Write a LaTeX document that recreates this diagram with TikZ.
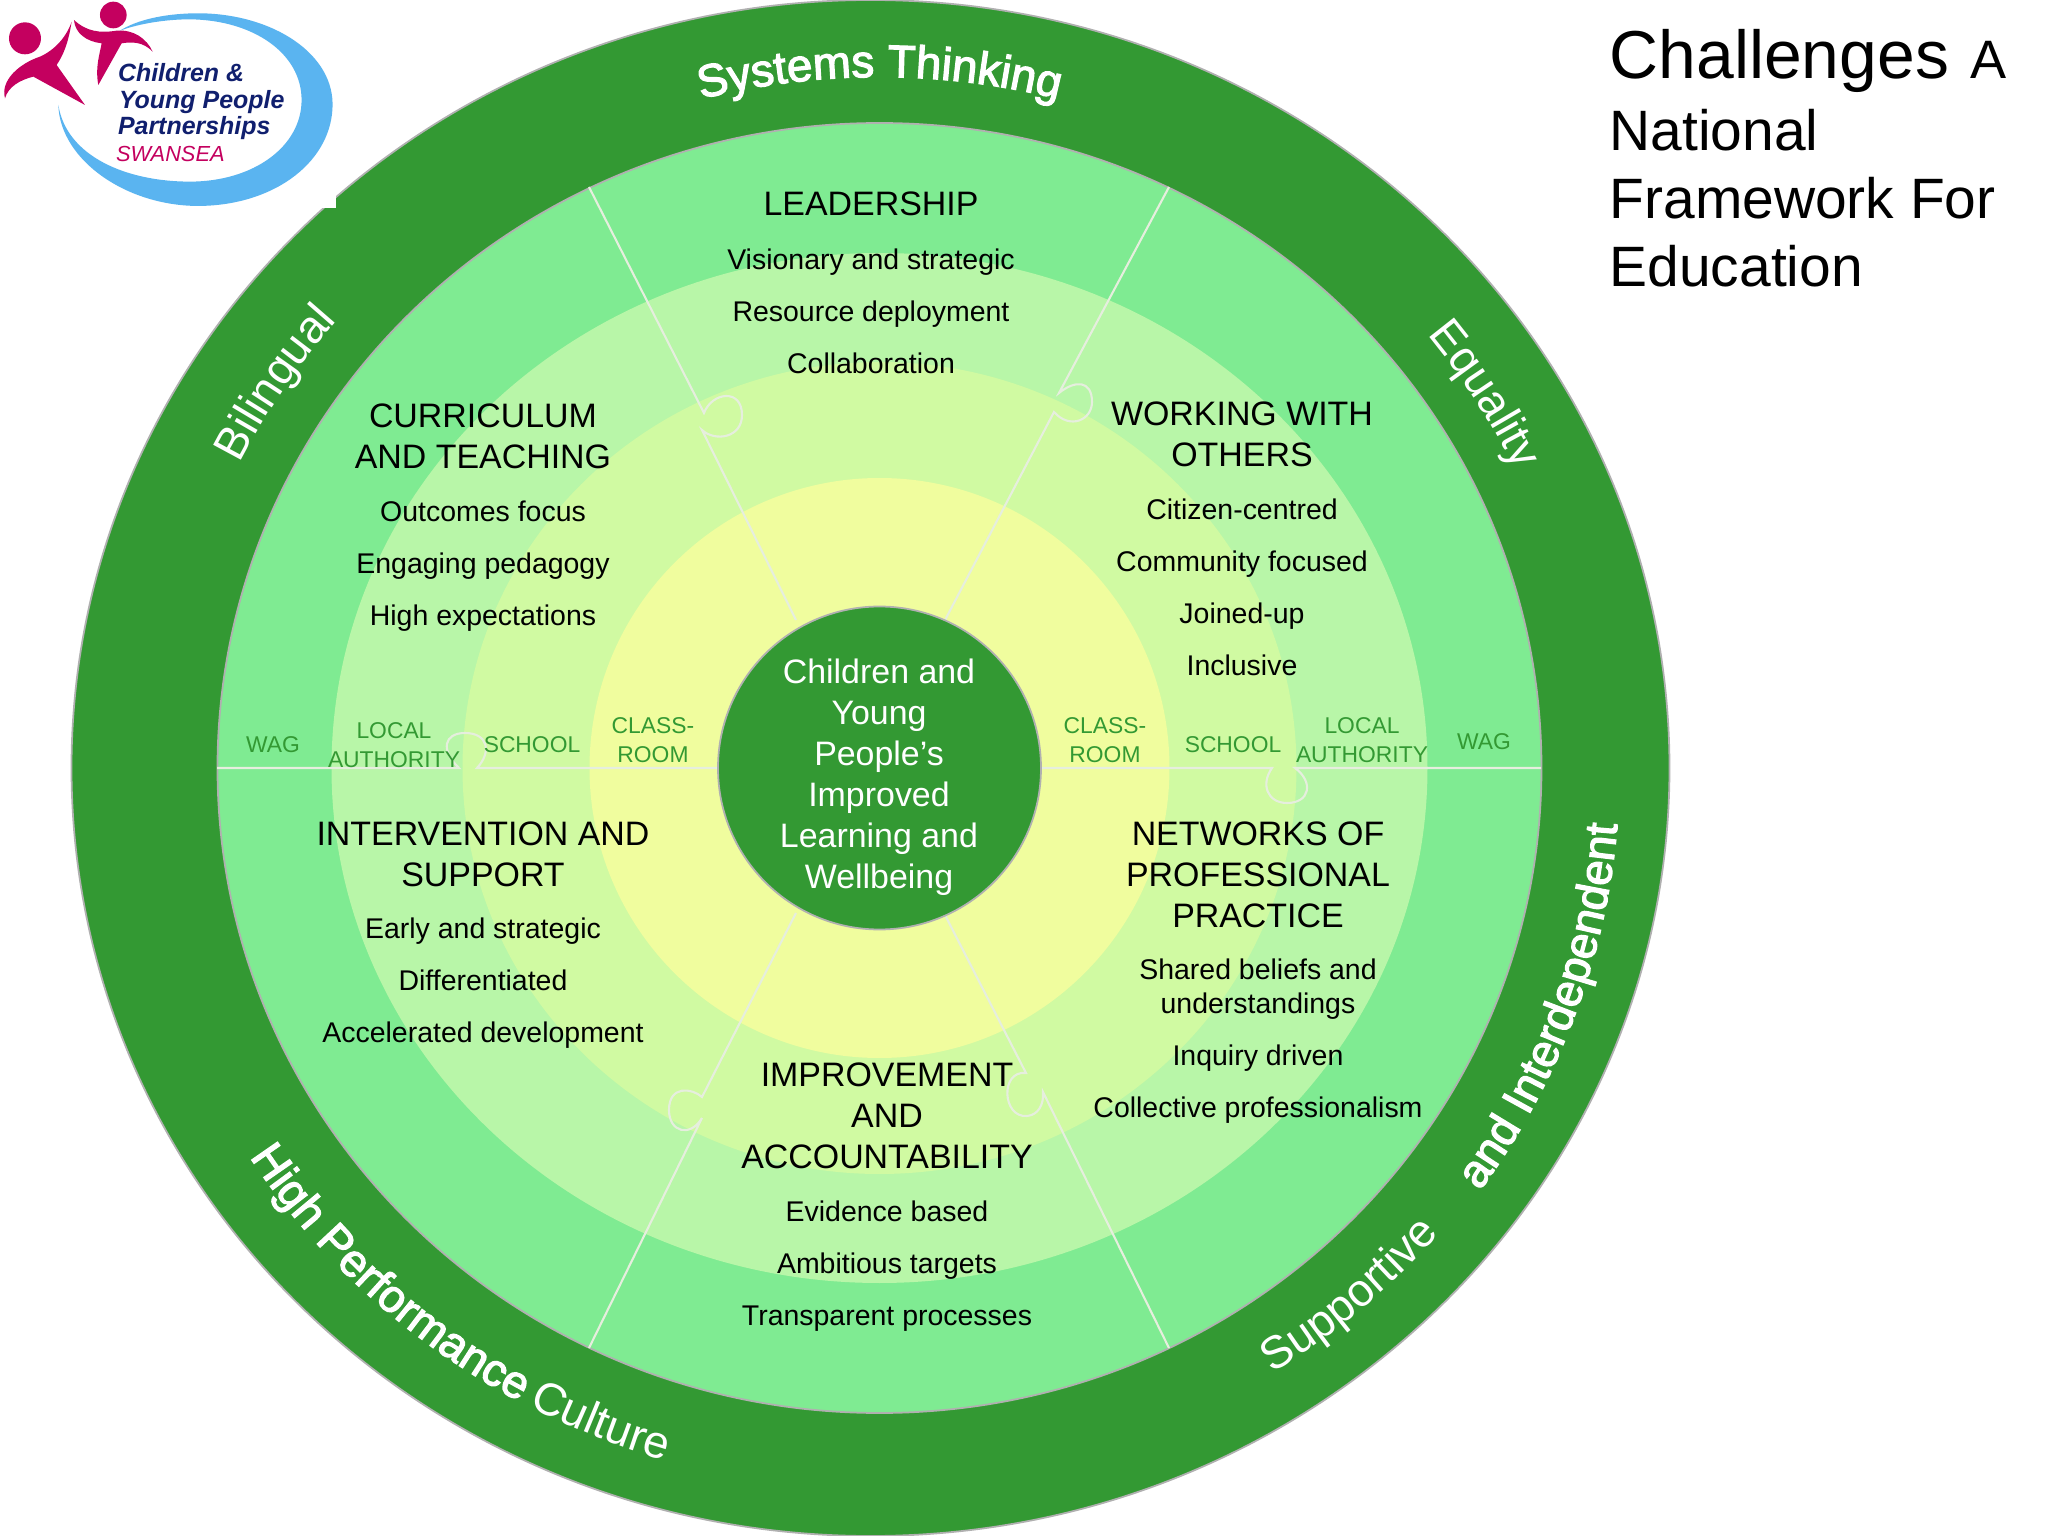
\documentclass[tikz,border=0pt]{standalone}
\usepackage{fontspec}
\setmainfont{Liberation Sans}
\newfontfamily\thickfont[FakeBold=2.6]{Liberation Sans}
\usetikzlibrary{decorations.text}

\definecolor{bandgreen}{HTML}{339933}
\definecolor{wagring}{HTML}{7FEB92}
\definecolor{laring}{HTML}{B8F6A8}
\definecolor{schoolring}{HTML}{D0FAA2}
\definecolor{classring}{HTML}{F0FD9E}
\definecolor{ringedge}{HTML}{B0B0B0}
\definecolor{spokeline}{HTML}{E6EEDE}
\definecolor{logopink}{HTML}{C4005F}
\definecolor{logoblue}{HTML}{5AB4F0}
\definecolor{logonavy}{HTML}{101F6E}

\newcommand{\arcfont}{\fontsize{13}{16}\selectfont}
\newcommand{\arcthick}{\thickfont\fontsize{13}{16}\selectfont}

\tikzset{
  headtext/.style={align=center,inner sep=0pt,font=\fontsize{9.65}{11.65}\selectfont},
  itemtext/.style={align=center,inner sep=0pt,font=\fontsize{8.1}{14.8}\selectfont},
  ringtext/.style={align=center,inner sep=0pt,text=bandgreen,font=\fontsize{6.5}{7.6}\selectfont},
  spoke/.style={draw=spokeline,line width=0.6pt},
  arcplain/.style={decorate,decoration={text along path,text align=center,text color=white,text={|\arcfont|#1}}},
  arcbold/.style={decorate,decoration={text along path,text align=center,text color=white,text={|\arcthick|#1}}},
  logotext/.style={anchor=base west,inner sep=0pt,text=logonavy,font=\bfseries\itshape\fontsize{7.1}{9}\selectfont}
}

\begin{document}
\begin{tikzpicture}
  \useasboundingbox (0,0) rectangle (20.48,-15.36);
  \coordinate (hub) at (8.795,-7.68);

  % rings
  \fill[bandgreen,draw=ringedge,line width=0.5pt] (8.705,-7.68) ellipse (7.99 and 7.68);
  \fill[wagring,draw=ringedge,line width=0.5pt] (hub) ellipse (6.62 and 6.45);
  \fill[laring] (hub) ellipse (5.48 and 5.15);
  \fill[schoolring] (hub) ellipse (4.17 and 4.06);
  \fill[classring] (hub) circle (2.9);

  % spokes with their jigsaw knobs
  \draw[spoke] (2.17,-7.68) -- (4.59,-7.68) .. controls (4.40,-7.50) and (4.44,-7.33) .. (4.65,-7.33)
    .. controls (4.88,-7.33) and (4.92,-7.52) .. (4.77,-7.68) -- (7.18,-7.68);
  \draw[spoke] (10.41,-7.68) -- (12.72,-7.68) .. controls (12.60,-7.85) and (12.68,-8.03) .. (12.87,-8.03)
    .. controls (13.10,-8.03) and (13.14,-7.82) .. (12.95,-7.68) -- (15.41,-7.68);
  \draw[spoke] (5.89,-1.87) -- (7.04,-4.13) .. controls (7.12,-3.92) and (7.42,-3.88) .. (7.42,-4.15)
    .. controls (7.42,-4.38) and (7.15,-4.42) .. (7.02,-4.30) -- (7.96,-6.20);
  \draw[spoke] (11.69,-1.87) -- (10.59,-3.93) .. controls (10.75,-3.80) and (10.92,-3.80) .. (10.92,-4.02)
    .. controls (10.92,-4.20) and (10.70,-4.30) .. (10.54,-4.12) -- (9.44,-6.22);
  \draw[spoke] (7.96,-9.13) -- (7.02,-10.97) .. controls (6.92,-10.88) and (6.69,-10.85) .. (6.69,-11.10)
    .. controls (6.69,-11.32) and (6.90,-11.38) .. (7.02,-11.18) -- (5.89,-13.48);
  \draw[spoke] (9.44,-9.13) -- (10.26,-10.73) .. controls (10.00,-10.70) and (10.02,-11.18) .. (10.27,-11.16)
    .. controls (10.38,-11.15) and (10.44,-11.05) .. (10.43,-10.92) -- (11.69,-13.48);

  % core
  \node[circle,fill=bandgreen,draw=ringedge,line width=0.5pt,minimum size=3.23cm,inner sep=0pt] (core) at (hub) {};
  \node[headtext,text=white] (coretext) at (8.79,-7.775) {Children and\\Young\\People’s\\Improved\\Learning and\\Wellbeing};

  % band texts
  \path[arcbold={Systems Thinking}] (hub) ++(130:7.13 and 6.91) arc[start angle=130,end angle=50,x radius=7.13,y radius=6.91];
  \path[arcplain={Bilingual}] (hub) ++(187:7.13 and 6.89) arc[start angle=187,end angle=107,x radius=7.13,y radius=6.89];
  \path[arcplain={Equality}] (hub) ++(72:7.05 and 6.89) arc[start angle=72,end angle=-8,x radius=7.05,y radius=6.89];
  \path[arcbold={High Performance}] (hub) ++(190.6:7.47 and 7.23) arc[start angle=190.6,end angle=262.6,x radius=7.47,y radius=7.23];
  \path[arcplain={Culture}] (hub) ++(220.5:7.47 and 7.23) arc[start angle=220.5,end angle=274.5,x radius=7.47,y radius=7.23];
  \path[arcplain={Supportive}] (hub) ++(-81:7.38 and 7.15) arc[start angle=-81,end angle=-17,x radius=7.38,y radius=7.15];
  \path[arcbold={and Interdependent}] (hub) ++(-60:7.40 and 7.23) arc[start angle=-60,end angle=20,x radius=7.40,y radius=7.23];

  % sectors
  \node[headtext] (leadhead) at (8.71,-2.04) {LEADERSHIP};
  \node[itemtext] (leaditems) at (8.71,-3.11) {Visionary and strategic\\Resource deployment\\Collaboration};

  \node[headtext] (currhead) at (4.83,-4.36) {CURRICULUM\\AND TEACHING};
  \node[itemtext] (curritems) at (4.83,-5.66) {Outcomes focus\\Engaging pedagogy\\High expectations};

  \node[headtext] (workhead) at (12.42,-4.345) {WORKING WITH\\OTHERS};
  \node[itemtext] (workitems) at (12.42,-5.87) {Citizen-centred\\Community focused\\Joined-up\\Inclusive};

  \node[headtext] (intvhead) at (4.83,-8.54) {INTERVENTION AND\\SUPPORT};
  \node[itemtext] (intvitems) at (4.83,-9.835) {Early and strategic\\Differentiated\\Accelerated development};

  \node[headtext] (nethead) at (12.58,-8.745) {NETWORKS OF\\PROFESSIONAL\\PRACTICE};
  \node[itemtext] (netitems) at (12.58,-10.41) {Shared beliefs and\\[-5.1pt]understandings\\Inquiry driven\\Collective professionalism};

  \node[headtext] (imprhead) at (8.87,-11.155) {IMPROVEMENT\\AND\\ACCOUNTABILITY};
  \node[itemtext] (impritems) at (8.87,-12.66) {Evidence based\\Ambitious targets\\Transparent processes};

  % ring names
  \node[ringtext] (wagleft) at (2.73,-7.45) {WAG};
  \node[ringtext] (laleft) at (3.94,-7.45) {LOCAL\\[0.5pt]AUTHORITY};
  \node[ringtext] (schoolleft) at (5.32,-7.45) {SCHOOL};
  \node[ringtext] (classleft) at (6.53,-7.40) {CLASS-\\[0.5pt]ROOM};
  \node[ringtext] (classright) at (11.05,-7.40) {CLASS-\\[0.5pt]ROOM};
  \node[ringtext] (schoolright) at (12.33,-7.45) {SCHOOL};
  \node[ringtext] (laright) at (13.62,-7.40) {LOCAL\\[0.5pt]AUTHORITY};
  \node[ringtext] (wagright) at (14.84,-7.42) {WAG};

  % title
  \node[anchor=north west,align=left,inner sep=0pt,font=\fontsize{16.2}{19.35}\selectfont] (title) at (16.09,-0.29)
    {{\fontsize{19.3}{19.35}\selectfont Challenges}\hspace{1.5pt} {\fontsize{15.4}{19.35}\selectfont A}\\[0.9pt]National\\Framework For\\Education};

  % logo
  \fill[white] (0,0) rectangle (3.36,-2.08);
  \begin{scope}[x=0.03333mm,y=-0.03333mm]
    \fill[logoblue] (175,315) .. controls (180,480) and (380,620) .. (600,618)
      .. controls (830,615) and (1000,480) .. (998,310)
      .. controls (995,150) and (800,35) .. (580,40)
      .. controls (490,42) and (410,60) .. (360,92)
      .. controls (420,70) and (500,58) .. (570,58)
      .. controls (760,60) and (905,160) .. (905,300)
      .. controls (905,440) and (760,545) .. (570,545)
      .. controls (380,545) and (200,470) .. (175,315) -- cycle;
    \fill[logopink] (75,115) circle (48);
    \fill[logopink] (340,45) circle (40);
    \fill[logopink] (215,65) .. controls (205,130) and (190,165) .. (170,195) -- (255,315) -- (100,230)
      .. controls (60,240) and (25,260) .. (15,295) .. controls (0,240) and (60,190) .. (120,170)
      .. controls (165,150) and (200,110) .. (215,65) -- cycle;
    \fill[logopink] (222,60) .. controls (260,95) and (300,100) .. (350,92)
      .. controls (400,88) and (440,115) .. (458,155) .. controls (430,125) and (395,125) .. (365,130)
      -- (295,255) .. controls (285,200) and (300,160) .. (305,130)
      .. controls (260,125) and (225,100) .. (222,60) -- cycle;
    \node[logotext] (logoa) at (352,245) {Children \&};
    \node[logotext] (logob) at (355,325) {Young People};
    \node[logotext] (logoc) at (352,405) {Partnerships};
    \node[anchor=base west,inner sep=0pt,text=logopink,font=\itshape\fontsize{6.2}{7}\selectfont] (logod) at (346,485) {SWANSEA};
  \end{scope}
\end{tikzpicture}
\end{document}
